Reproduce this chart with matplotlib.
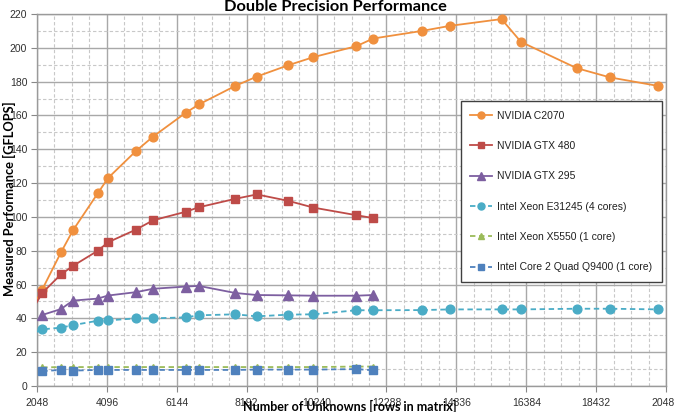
import matplotlib
matplotlib.use("Agg")
import matplotlib.pyplot as plt
from matplotlib.ticker import MultipleLocator

# ---- data ----
x_vals = [1536, 2200, 2750, 3100, 3830, 4130, 4950, 5450, 6400, 6790, 7860, 8490,
          9410, 10150, 11410, 11900, 13330, 14150, 15660, 16230, 17860, 18840, 20240]

c2070 = [32, 57, 79, 92, 114, 123, 139, 147.5, 161.5, 166.5, 177.5, 183, 189.7,
         194.5, 201, 205.5, 210, 213, 217, 203.5, 188, 182.5, 177.5]
gtx480 = [32, 55, 66, 71, 80, 85, 92.5, 98, 103, 105.7, 110.7, 113.3, 109.5,
          105.5, 101, 99.3]
gtx295 = [42, 45.5, 50.5, 51.7, 53.5, 55.5, 57.5, 58.8, 59.2, 55, 53.8, 53.6,
          53.4, 53.4, 53.8]
e31245 = [27.5, 33.5, 34.5, 36, 38.6, 38.8, 40, 40, 40.6, 41.8, 42.4, 41.2, 42.2,
          42.4, 44.8, 44.8, 44.9, 45.3, 45.3, 45.3, 45.7, 45.7, 45.3]
x5550 = [11, 11.2, 11.2, 11.2, 11.2, 11.2, 11.2, 11.2, 11.2, 11.2, 11.2, 11.2,
         11.2, 11.5, 11.5]
q9400 = [8.8, 9.5, 9.1, 9.5, 9.5, 9.5, 9.5, 9.5, 9.5, 9.5, 9.7, 9.7, 9.7, 10, 9.3]

labels = ["NVIDIA C2070", "NVIDIA GTX 480", "NVIDIA GTX 295",
          "Intel Xeon E31245 (4 cores)", "Intel Xeon X5550 (1 core)",
          "Intel Core 2 Quad Q9400 (1 core)"]
x_ticks = [2048, 4096, 6144, 8192, 10240, 12288, 14336, 16384, 18432, 20480]
y_ticks = list(range(0, 221, 20))

title = "Double Precision Performance"
xlabel = "Number of Unknowns [rows in matrix]"
ylabel = "Measured Performance [GFLOPS]"

# ---- plot ----
plt.rcParams['font.family'] = ['Liberation Sans', 'DejaVu Sans']
fig = plt.figure(figsize=(6.74, 4.12), dpi=100)
ax = fig.add_axes([37/674, 1-386/412, 629/674, 372/412])

lw = 1.3
ax.plot(x_vals[:len(c2070)], c2070, '-', color='#F0903E', lw=lw, marker='o', ms=6.3,
        label=labels[0], zorder=5)
ax.plot(x_vals[:len(gtx480)], gtx480, '-', color='#BE4B48', lw=lw, marker='s', ms=6.1,
        label=labels[1], zorder=5)
ax.plot(x_vals[1:1+len(gtx295)], gtx295, '-', color='#7D5FA0', lw=lw, marker='^', ms=6.6,
        label=labels[2], zorder=5)
ax.plot(x_vals[:len(e31245)], e31245, '--', color='#4AACC6', lw=lw, marker='o', ms=6.3,
        dashes=(3, 2), label=labels[3], zorder=5)
ax.plot(x_vals[1:1+len(x5550)], x5550, '--', color='#9BBB59', lw=lw, marker='^', ms=5,
        dashes=(3, 2), label=labels[4], zorder=4)
ax.plot(x_vals[1:1+len(q9400)], q9400, '--', color='#4F81BD', lw=lw, marker='s', ms=6.1,
        dashes=(3, 2), label=labels[5], zorder=5)

ax.set_xlim(2048, 20480)
ax.set_ylim(0, 220)
ax.set_xticks(x_ticks)
ax.set_yticks(y_ticks)
ax.xaxis.set_minor_locator(MultipleLocator(512))
ax.yaxis.set_minor_locator(MultipleLocator(10))
ax.grid(which='major', color='#A8A8A8', lw=1.0, ls='-', zorder=0)
ax.grid(which='minor', color='#C8C8C8', lw=0.8, ls=(0, (3, 2)), zorder=0)
ax.set_axisbelow(True)
ax.tick_params(axis='x', which='major', pad=5)
ax.tick_params(axis='y', which='major', pad=3)
ax.tick_params(which='major', direction='out', length=4, color='#888888',
               labelsize=7.5, labelcolor='#303030')
ax.tick_params(which='minor', length=0)
for s in ax.spines.values():
    s.set_color('#9A9A9A')
    s.set_linewidth(1.0)

leg = ax.legend(loc='upper left', bbox_to_anchor=(0.674, 0.765, 0.32, 0.0),
                mode='expand', fontsize=7.5, labelspacing=1.95, handlelength=2.1,
                handletextpad=0.45, borderpad=0.9, borderaxespad=0, markerscale=0.8,
                frameon=True, fancybox=False)
leg.get_frame().set_edgecolor('#404040')
leg.get_frame().set_linewidth(1.0)
leg.get_frame().set_alpha(1)
for t in leg.get_texts():
    t.set_color('#202020')

fig.text(335/674, 1-11/412, title, ha='center', va='baseline',
         fontsize=11.75, fontweight='bold', family=['Lato', 'DejaVu Sans'])
fig.text(350/674, 1-411/412, xlabel, ha='center', va='baseline',
         fontsize=9, fontweight='bold', family=['Lato', 'DejaVu Sans'])
fig.text(3/674, 1-199/412, ylabel, ha='left', va='center', rotation=90,
         fontsize=9.3, fontweight='bold', family=['Lato', 'DejaVu Sans'])

fig.savefig('out.png', dpi=100)
